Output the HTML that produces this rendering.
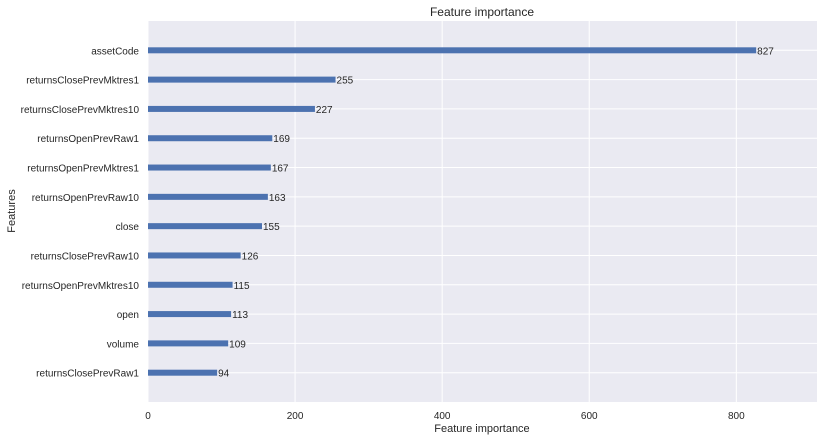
<!DOCTYPE html>
<html><head><meta charset="utf-8"><style>
body{margin:0;background:#fff;}
svg text{font-family:"Liberation Sans",sans-serif;fill:#262626;}
</style></head><body>
<svg id="chart" width="823" height="440" xmlns="http://www.w3.org/2000/svg">
<text x="482" y="16" font-size="12" text-anchor="middle">Feature importance</text>
<rect x="148" y="21" width="669" height="381" fill="#EAEAF2"/>
<g id="grid"></g><g id="bars"></g><g id="labels"></g>
<text x="482" y="432" font-size="11" text-anchor="middle">Feature importance</text>
<text x="15" y="211" font-size="11" text-anchor="middle" transform="rotate(-90 15 211)">Features</text>
</svg>
<script>
const features=["assetCode","returnsClosePrevMktres1","returnsClosePrevMktres10","returnsOpenPrevRaw1","returnsOpenPrevMktres1","returnsOpenPrevRaw10","close","returnsClosePrevRaw10","returnsOpenPrevMktres10","open","volume","returnsClosePrevRaw1"];
const importance=[827,255,227,169,167,163,155,126,115,113,109,94];
const xTicks=[0,200,400,600,800];
const NS="http://www.w3.org/2000/svg";
const L=148,R=817,T=21,B=402;
const xMax=Math.max(...importance)*1.1;
const x=v=>L+v/xMax*(R-L);
const n=features.length;
const y=i=>T+(i+1)*(B-T)/(n+1);
function mk(tag,attrs,parent){const e=document.createElementNS(NS,tag);for(const k in attrs)e.setAttribute(k,attrs[k]);document.getElementById(parent).appendChild(e);return e;}
xTicks.forEach(t=>{
 const l=mk('line',{x1:x(t),x2:x(t),y1:T,y2:B,stroke:'#fff','stroke-width':1},'grid');
 
 
 const tx=mk('text',{x:x(t),y:B+17,'font-size':10,'text-anchor':'middle'},'labels');
 tx.textContent=t;
 
 
});
features.forEach((f,i)=>{
 const cy=y(i);
 const g=mk('line',{x1:L,x2:R,y1:cy,y2:cy,stroke:'#fff','stroke-width':1},'grid');
 
 
 const b=mk('rect',{x:L,y:cy-3,width:x(importance[i])-L,height:6,fill:'#4C72B0'},'bars');
 
 
 const v=mk('text',{x:x(importance[i])+1,y:cy+4,'font-size':10},'labels');
 v.textContent=importance[i];
 
 
 const lb=mk('text',{x:139,y:cy+4,'font-size':10,'text-anchor':'end'},'labels');
 lb.textContent=f;
 
 
});
</script>
</body></html>
